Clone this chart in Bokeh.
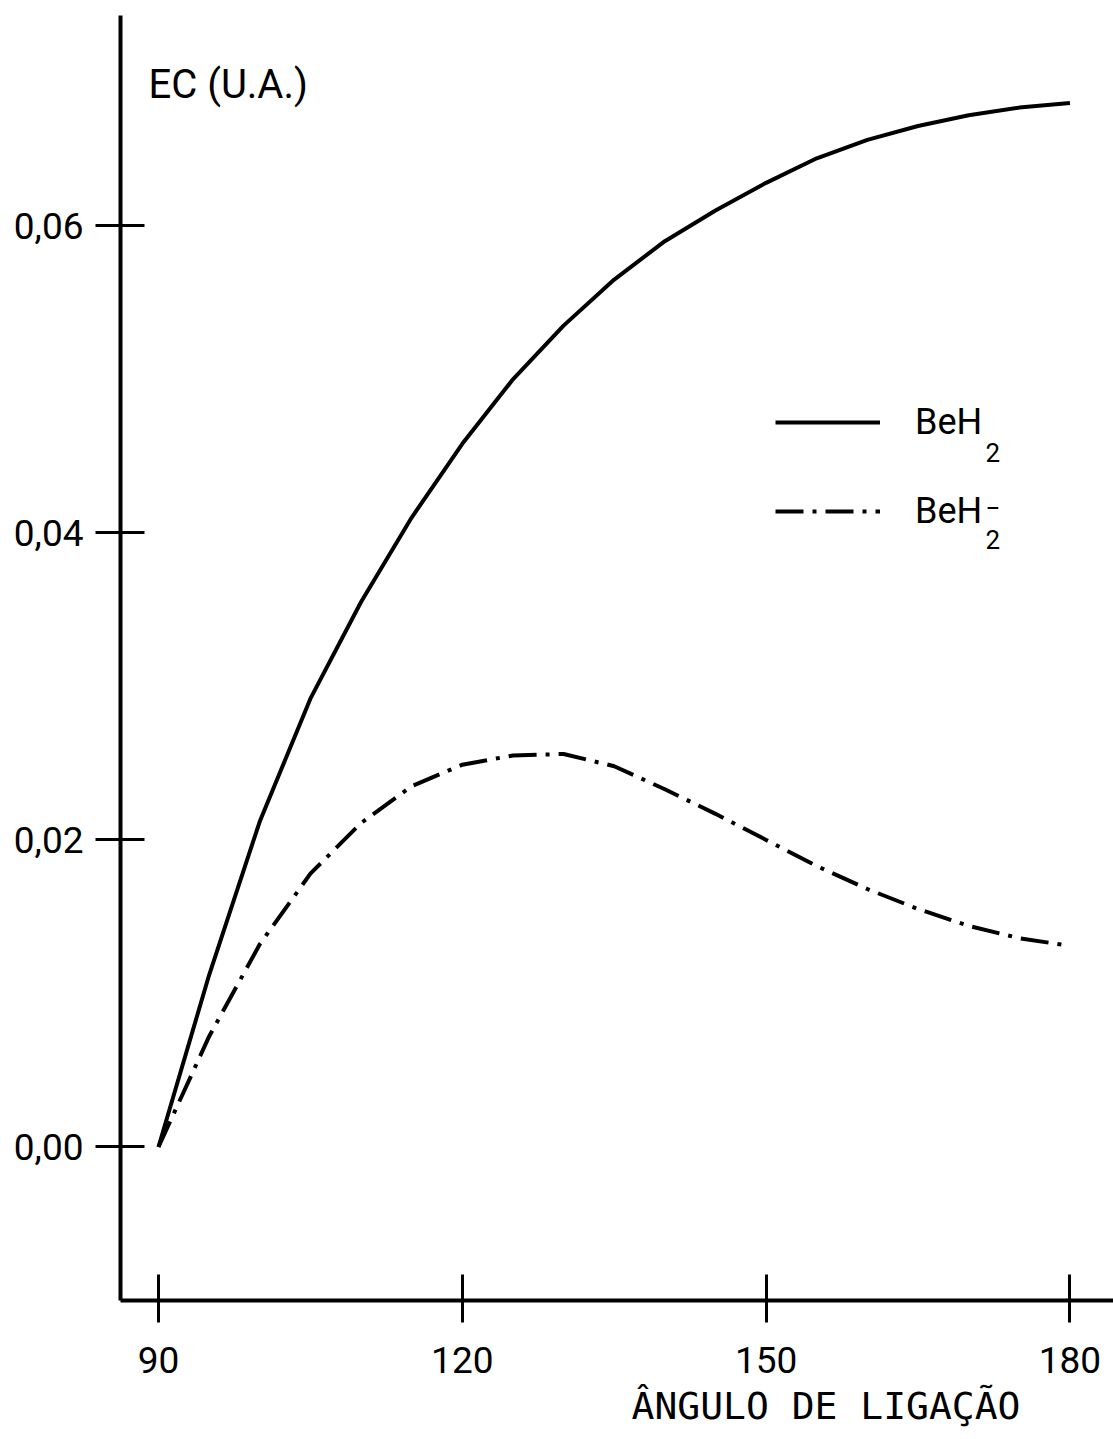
from bokeh.plotting import figure
from bokeh.models import Range1d, FixedTicker, Legend, LegendItem, Label, Title
from bokeh.embed import file_html
from bokeh.resources import INLINE

# ---------------- data ----------------
angles = [90, 95, 100, 105, 110, 115, 120, 125, 130, 135, 140, 145, 150,
          155, 160, 165, 170, 175, 180]
beh2 = [0.0, 0.0112, 0.0212, 0.0292, 0.0355, 0.0410, 0.0458, 0.0500, 0.0535,
        0.0565, 0.0590, 0.0610, 0.0628, 0.0644, 0.0656, 0.0665, 0.0672,
        0.0677, 0.0680]
beh2_minus = [0.0, 0.0072, 0.0132, 0.0178, 0.0211, 0.0235, 0.0249, 0.0255,
              0.0256, 0.0248, 0.0233, 0.0217, 0.0200, 0.0183, 0.0168, 0.0155,
              0.0144, 0.0136, 0.0131]
x_ticks = [90, 120, 150, 180]
y_ticks = [0.0, 0.02, 0.04, 0.06]
y_tick_labels = ["0,00", "0,02", "0,04", "0,06"]
legend_labels = ["BeH", "BeH"]
y_title = "EC (U.A.)"
x_title = "ÂNGULO DE LIGAÇÃO"

# ---------------- layout ----------------
W, H = 1113, 1439
FL, FR, FT, FB = 120, 1113, 15, 1300      # frame edges in px
X0, X1 = 86.25, 184.3
Y0, Y1 = -0.0100, 0.0737

def dx(px):
    return X0 + (px - FL) * (X1 - X0) / (FR - FL)

def dy(py):
    return Y1 - (py - FT) * (Y1 - Y0) / (FB - FT)

p = figure(width=W, height=H, output_backend="svg", toolbar_location=None,
           x_range=Range1d(X0, X1), y_range=Range1d(Y0, Y1),
           min_border_left=FL, min_border_right=W - FR,
           min_border_top=FT, min_border_bottom=H - FB)
p.outline_line_color = None
p.xgrid.visible = False
p.ygrid.visible = False
p.background_fill_color = "white"
p.border_fill_color = "white"

FONT = "Roboto"

for ax in (p.xaxis[0], p.yaxis[0]):
    ax.axis_line_width = 4
    ax.axis_line_color = "black"
    ax.major_tick_line_width = 3
    ax.major_tick_line_color = "black"
    ax.minor_tick_line_color = None
    ax.major_label_text_font = FONT
    ax.major_label_text_font_size = "37px"
    ax.major_label_text_color = "black"

p.xaxis.ticker = FixedTicker(ticks=x_ticks)
p.xaxis.major_tick_in = 26
p.xaxis.major_tick_out = 22
p.xaxis.major_label_standoff = 24

p.yaxis.ticker = FixedTicker(ticks=y_ticks)
p.yaxis.major_label_overrides = dict(zip(y_ticks, y_tick_labels))
p.yaxis.major_tick_in = 24
p.yaxis.major_tick_out = 25
p.yaxis.major_label_standoff = 12

# ---------------- curves ----------------
r1 = p.line(angles, beh2, line_color="black", line_width=4)
r2 = p.line(angles, beh2_minus, line_color="black", line_width=4,
            line_dash="28 9 4 9")

# ---------------- legend ----------------
legend = Legend(items=[LegendItem(label=legend_labels[0], renderers=[r1]),
                       LegendItem(label=legend_labels[1], renderers=[r2])],
                location=(655, 768), orientation="vertical",
                glyph_width=105, glyph_height=40, label_height=40,
                spacing=47, label_standoff=35, padding=0, margin=0,
                border_line_alpha=0, background_fill_alpha=0,
                label_text_font=FONT, label_text_font_size="36px",
                label_text_color="black", label_text_baseline="middle")
p.add_layout(legend)

sub_font = "26px"
p.add_layout(Label(x=dx(985), y=dy(442), text="2", text_font=FONT,
                   text_font_size=sub_font, text_baseline="top",
                   text_color="black"))
p.add_layout(Label(x=dx(985), y=dy(529), text="2", text_font=FONT,
                   text_font_size=sub_font, text_baseline="top",
                   text_color="black"))
p.add_layout(Label(x=dx(985), y=dy(507), text="\u2212", text_font=FONT,
                   text_font_size=sub_font, text_baseline="middle",
                   text_color="black"))

# ---------------- axis titles ----------------
p.add_layout(Label(x=dx(148), y=dy(84), text=y_title, text_font=FONT,
                   text_font_size="40px", text_baseline="alphabetic",
                   text_color="black"))

p.add_layout(Title(text=x_title, align="right", offset=93,
                   text_font="DejaVu Sans Mono", text_font_size="38px",
                   text_font_style="normal", text_color="black",
                   vertical_align="top", standoff=16), "below")

open("out.html", "w").write(file_html(p, INLINE))
